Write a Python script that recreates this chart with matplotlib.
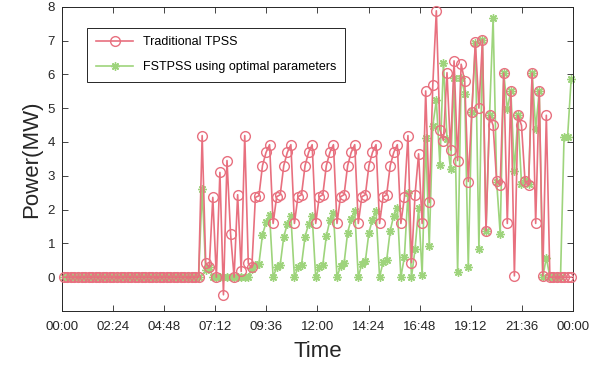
import matplotlib
matplotlib.use("Agg")
import matplotlib.pyplot as plt
from matplotlib.ticker import FixedLocator

plt.rcParams['font.family'] = ['Liberation Sans', 'DejaVu Sans']

# Data: one point every 10 minutes, starting at 00:05
times = [5 + 10 * i for i in range(144)]

tick_pos = [0, 144, 288, 432, 576, 720, 864, 1008, 1152, 1296, 1440]
tick_labels = ['00:00', '02:24', '04:48', '07:12', '09:36', '12:00',
               '14:24', '16:48', '19:12', '21:36', '00:00']

traditional = [
    0, 0, 0, 0, 0, 0, 0, 0, 0, 0,
    0, 0, 0, 0, 0, 0, 0, 0, 0, 0,
    0, 0, 0, 0, 0, 0, 0, 0, 0, 0,
    0, 0, 0, 0, 0, 0, 0, 0, 0, 4.19,
    0.41, 0.29, 2.36, 0, 3.10, -0.52, 3.45, 1.29, 0, 2.44,
    0.17, 4.19, 0.41, 0.29, 2.36, 2.41, 3.30, 3.69, 3.92, 1.59,
    2.38, 2.44, 3.30, 3.69, 3.92, 1.59, 2.38, 2.44, 3.30, 3.69,
    3.92, 1.59, 2.38, 2.44, 3.30, 3.69, 3.92, 1.59, 2.38, 2.44,
    3.30, 3.69, 3.92, 1.59, 2.38, 2.44, 3.30, 3.69, 3.92, 1.59,
    2.38, 2.44, 3.30, 3.69, 3.92, 1.59, 2.36, 4.19, 0.43, 2.44,
    3.65, 1.59, 5.51, 2.21, 5.68, 7.88, 4.36, 4.04, 6.05, 3.76,
    6.40, 3.45, 6.30, 5.80, 2.83, 4.89, 6.96, 5.00, 7.03, 1.37,
    4.79, 4.49, 2.84, 2.73, 6.04, 1.59, 5.51, 0.04, 4.79, 4.49,
    2.84, 2.73, 6.04, 1.59, 5.51, 0.04, 4.79, 0, 0, 0,
    0, 0, 0, 0,
]

fstpss = [
    0, 0, 0, 0, 0, 0, 0, 0, 0, 0,
    0, 0, 0, 0, 0, 0, 0, 0, 0, 0,
    0, 0, 0, 0, 0, 0, 0, 0, 0, 0,
    0, 0, 0, 0, 0, 0, 0, 0, 0, 2.61,
    0.20, 0.30, 0, 0, 0, 0, 0, 0, 0, 0,
    0, 0, 0, 0.25, 0.36, 0.40, 1.25, 1.62, 1.85, 0,
    0.29, 0.37, 1.20, 1.57, 1.82, 0, 0.29, 0.37, 1.20, 1.57,
    1.82, 0, 0.29, 0.37, 1.22, 1.68, 1.90, 0, 0.33, 0.41,
    1.32, 1.72, 1.95, 0, 0.40, 0.48, 1.32, 1.70, 1.95, 0,
    0.45, 0.50, 1.38, 1.82, 2.05, 0, 0.60, 2.49, 0, 0.83,
    2.05, 0.07, 4.13, 0.92, 4.48, 5.23, 3.33, 6.35, 4.10, 3.20,
    5.90, 0.14, 5.90, 5.43, 0.31, 4.88, 6.94, 0.83, 7.01, 1.37,
    4.79, 7.66, 2.83, 1.28, 6.04, 4.98, 5.51, 3.13, 4.79, 2.76,
    2.88, 2.75, 6.04, 4.39, 5.51, 0, 0.58, 0, 0, 0,
    0, 4.16, 4.16, 5.86,
]

red = '#E8707F'
green = '#9ED47C'

fig = plt.figure(figsize=(6.05, 3.67), dpi=100)
ax = fig.add_axes([0.1025, 0.1526, 0.8445, 0.829])

# red drawn on top of green, legend keeps red first
l1, = ax.plot(times, traditional, color=red, lw=1.2, marker='o', ms=7,
              mfc='none', mec=red, mew=1.0, zorder=3, clip_on=False,
              label='Traditional TPSS')
l2, = ax.plot(times, fstpss, color=green, lw=1.2, marker=(8, 2, 0), ms=6,
              mec=green, mew=1.0, zorder=2, clip_on=False,
              label='FSTPSS using optimal parameters')

ax.set_xlim(0, 1440)
ax.set_ylim(-1, 8)
ax.xaxis.set_major_locator(FixedLocator(tick_pos))
ax.set_xticklabels(tick_labels)
ax.set_yticks(range(0, 9))

ax.tick_params(direction='in', top=True, right=True, length=4,
               width=0.6, labelsize=9.5, colors='#262626')
ax.tick_params(axis='x', pad=7)
ax.tick_params(axis='y', pad=5)
for s in ax.spines.values():
    s.set_linewidth(0.7)
    s.set_color('#262626')

ax.set_xlabel('Time', fontsize=16, color='#262626', labelpad=6)
ax.set_ylabel('Power(MW)', fontsize=16, color='#262626', labelpad=4)

leg = ax.legend(handles=[l1, l2], loc='upper left',
                bbox_to_anchor=(0.049, 0.931), borderaxespad=0,
                fontsize=9, frameon=True, fancybox=False,
                edgecolor='#262626', framealpha=1, borderpad=0.7,
                handlelength=3.0, labelspacing=1.0, markerscale=1.0)
leg.get_frame().set_linewidth(0.7)

fig.savefig('out.png', dpi=100)
